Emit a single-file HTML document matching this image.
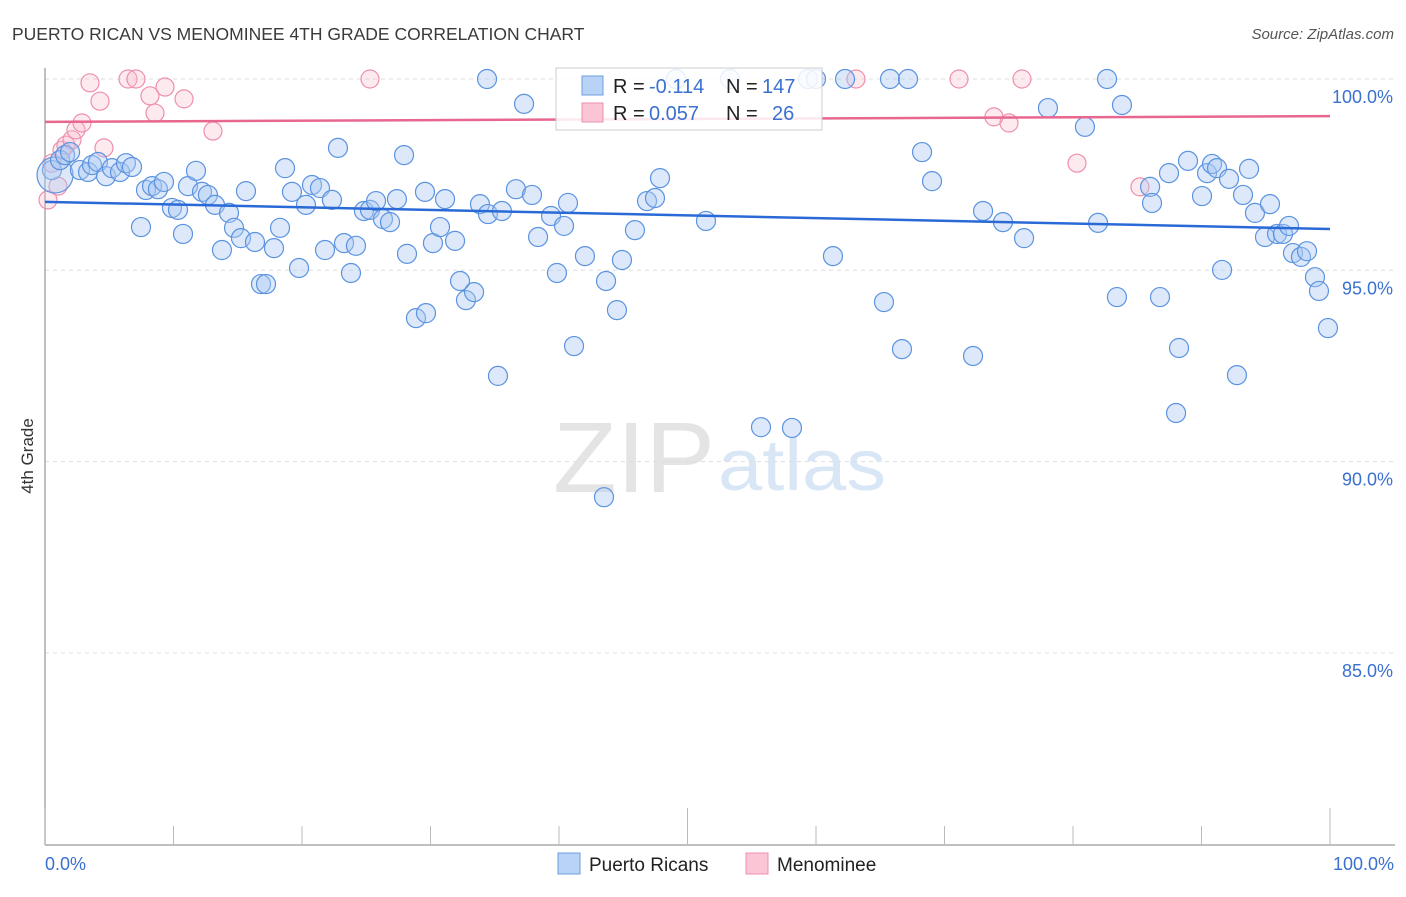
<!DOCTYPE html>
<html><head><meta charset="utf-8"><style>
body{margin:0;background:#fff;font-family:"Liberation Sans",sans-serif}
svg text{font-family:"Liberation Sans",sans-serif}
</style></head><body>
<svg width="1406" height="892" id="chart">
<text x="12" y="40" font-size="17.5" fill="#3a3a3a">PUERTO RICAN VS MENOMINEE 4TH GRADE CORRELATION CHART</text>
<text x="1394" y="39" font-size="15" fill="#555" font-style="italic" text-anchor="end">Source: ZipAtlas.com</text>
<text x="33" y="456" font-size="17" fill="#333" transform="rotate(-90 33 456)" text-anchor="middle">4th Grade</text>
<g><text x="553" y="492" font-size="100" fill="#e4e4e4" font-family="Liberation Serif" textLength="162" lengthAdjust="spacingAndGlyphs">ZIP</text><text x="718" y="490" font-size="72" fill="#d8e6f6" textLength="168" lengthAdjust="spacingAndGlyphs">atlas</text></g>
<g id="grid"></g><g id="axes"></g><g id="pts"></g><g id="trend"></g>
<g>
<rect x="556" y="68" width="266" height="62" fill="#fff" fill-opacity="0.85" stroke="#ccc"/>
<rect x="582" y="76" width="21" height="19" fill="#b8d3f5" stroke="#6d9fe0"/>
<rect x="582" y="103" width="21" height="19" fill="#fbc5d5" stroke="#ee8fad"/>
<text x="613" y="93" font-size="20" fill="#222">R =</text>
<text x="649" y="93" font-size="20" fill="#3a70d0">-0.114</text>
<text x="726" y="93" font-size="20" fill="#222">N =</text>
<text x="762" y="93" font-size="20" fill="#3a70d0">147</text>
<text x="613" y="120" font-size="20" fill="#222">R =</text>
<text x="649" y="120" font-size="20" fill="#3a70d0">0.057</text>
<text x="726" y="120" font-size="20" fill="#222">N =</text>
<text x="772" y="120" font-size="20" fill="#3a70d0">26</text>
</g>
<g>
<rect x="558" y="853" width="22" height="21" fill="#b8d3f5" stroke="#6d9fe0"/>
<text x="589" y="871" font-size="19" fill="#222">Puerto Ricans</text>
<rect x="746" y="853" width="22" height="21" fill="#fbc5d5" stroke="#ee8fad"/>
<text x="777" y="871" font-size="19" fill="#222">Menominee</text>
</g>
</svg>
<script>
const yTicks=[100,95,90,85];
const yTickLabels=["100.0%","95.0%","90.0%","85.0%"];
const xTicks=[0,10,20,30,40,50,60,70,80,90,100];
const blueX=[0.54,0.78,1.17,1.56,1.95,2.72,3.35,3.66,4.12,4.75,5.21,5.84,6.30,6.77,7.47,7.86,8.33,8.79,9.26,9.88,10.35,10.74,11.13,11.75,12.22,12.68,13.23,13.77,14.32,14.71,15.25,15.64,16.34,16.81,17.20,17.82,18.29,18.68,19.22,19.77,20.31,20.78,21.40,21.79,22.33,22.80,23.27,23.81,24.20,24.82,25.29,25.76,26.30,26.85,27.39,27.94,28.17,28.87,29.65,29.57,30.19,30.74,31.13,31.91,32.30,32.76,33.39,33.85,34.47,34.40,35.25,35.56,36.65,37.28,37.90,38.37,39.38,39.84,40.39,40.70,41.17,42.02,43.50,43.66,44.51,44.90,45.91,46.85,47.47,47.86,49.11,51.44,53.31,55.72,58.13,59.38,60.00,61.32,62.26,65.29,65.76,66.69,67.16,68.25,69.03,72.22,73.00,74.55,76.19,78.05,80.93,81.95,82.65,83.42,83.81,86.00,86.15,86.77,87.47,88.02,88.25,88.95,90.04,90.43,90.82,91.21,91.60,92.14,92.76,93.23,93.70,94.16,94.94,95.33,95.88,96.34,96.81,97.12,97.74,98.21,98.83,99.14,99.84];
const blueY=[97.62,97.49,97.88,98.01,98.09,97.62,97.57,97.75,97.83,97.46,97.67,97.57,97.80,97.70,96.13,97.10,97.20,97.12,97.31,96.63,96.58,95.95,97.20,97.60,97.05,96.97,96.71,95.53,96.50,96.11,95.84,97.07,95.74,94.64,94.64,95.58,96.11,97.67,97.05,95.06,96.71,97.23,97.15,95.53,96.84,98.20,95.71,94.93,95.64,96.55,96.58,96.81,96.34,96.26,96.86,98.01,95.43,93.75,93.88,97.05,95.71,96.13,96.86,95.77,94.72,94.22,94.43,96.73,96.47,100,92.24,96.55,97.12,99.35,96.97,95.87,96.42,94.93,96.16,96.76,93.02,95.37,89.07,94.72,93.96,95.27,96.05,96.81,96.89,97.41,100,96.29,100,90.90,90.88,100,100,95.37,100,94.17,100,92.94,100,98.09,97.33,92.76,96.55,96.26,95.84,99.24,98.75,96.24,100,94.30,99.32,97.18,96.76,94.30,97.54,91.27,92.97,97.86,96.94,97.54,97.78,97.67,95.01,97.39,92.26,96.97,97.65,96.50,95.87,96.73,95.95,95.95,96.16,95.45,95.35,95.50,94.82,94.46,93.49];
const blueR=[9.5,18,9.5,9.5,9.5];
const pinkX=[0.23,0.54,1.01,1.32,1.63,2.10,2.41,2.88,3.50,4.28,4.59,6.46,7.08,8.17,8.56,9.34,10.82,13.07,25.29,63.11,71.13,73.85,75.02,76.03,80.31,85.21];
const pinkY=[96.84,97.80,97.20,98.14,98.27,98.41,98.67,98.85,99.90,99.42,98.20,100,100,99.56,99.11,99.79,99.48,98.64,100,100,100,99.01,98.85,100,97.80,97.18];
const blueTrend=[96.79,96.08];
const pinkTrend=[98.88,99.03];
const NS="http://www.w3.org/2000/svg";
const X0=45,X1=1330,YTOP=79,PER=38.26;
const sx=v=>X0+(X1-X0)*v/100;
const sy=v=>YTOP+(100-v)*PER;
function mk(tag,attrs,parent){const e=document.createElementNS(NS,tag);for(const k in attrs)e.setAttribute(k,attrs[k]);document.getElementById(parent).appendChild(e);return e;}
yTicks.forEach((t,i)=>{
 const l=mk('line',{x1:45,x2:1395,y1:sy(t),y2:sy(t),stroke:'#ddd','stroke-dasharray':'4,4'},'grid');
 
 
 const tx=mk('text',{x:1393,y:sy(t)+24,'font-size':18,fill:'#3a70d0','text-anchor':'end'},'grid');
 tx.textContent=yTickLabels[i];
 
 
});
const ya=mk('line',{x1:45,x2:45,y1:68,y2:845,stroke:'#aaa','stroke-width':1.5},'axes');


const xa=mk('line',{x1:45,x2:1395,y1:845,y2:845,stroke:'#aaa','stroke-width':1.5},'axes');


xTicks.forEach(t=>{
 const tk=mk('line',{x1:sx(t),x2:sx(t),y1:(t%50===0)?808:826,y2:845,stroke:'#bbb'},'axes');
 
 
});
const xl0=mk('text',{x:45,y:870,'font-size':18,fill:'#3a70d0'},'axes');xl0.textContent='0.0%';


const xl1=mk('text',{x:1394,y:870,'font-size':18,fill:'#3a70d0','text-anchor':'end'},'axes');xl1.textContent='100.0%';


pinkX.forEach((x,i)=>{
 const c=mk('circle',{cx:sx(x),cy:sy(pinkY[i]),r:9,fill:'#f8b8cb','fill-opacity':0.3,stroke:'#ee8fad','stroke-width':1.2},'pts');
 
 
});
blueX.forEach((x,i)=>{
 const c=mk('circle',{cx:sx(x),cy:sy(blueY[i]),r:blueR[i]||9.5,fill:'#a9c9f2','fill-opacity':0.4,stroke:'#5b93e0','stroke-width':1.2},'pts');
 
 
});
const bt=mk('line',{x1:sx(0),x2:sx(100),y1:sy(blueTrend[0]),y2:sy(blueTrend[1]),stroke:'#2a6ad6','stroke-width':2.5},'trend');


const pt=mk('line',{x1:sx(0),x2:sx(100),y1:sy(pinkTrend[0]),y2:sy(pinkTrend[1]),stroke:'#e8678f','stroke-width':2.5},'trend');


</script>
</body></html>
